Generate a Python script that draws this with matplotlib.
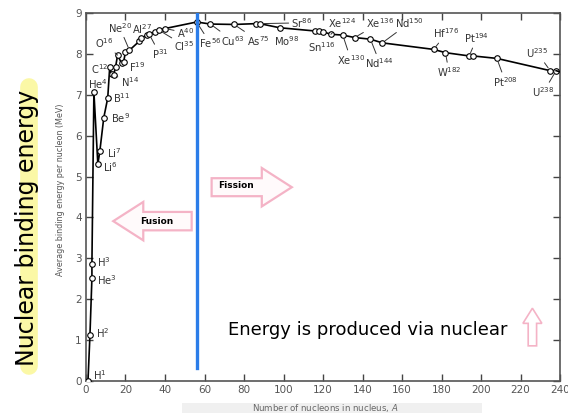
import matplotlib
matplotlib.use("Agg")
import matplotlib.pyplot as plt
from matplotlib.lines import Line2D
from matplotlib.patches import FancyArrow, Rectangle

# mass number A and binding energy per nucleon (MeV)
mass_number = [1, 2, 3, 3, 4, 6, 7, 9, 11, 12, 13, 14, 15, 16, 18, 19, 20, 22,
               27, 28, 31, 32, 35, 37, 40, 56, 63, 75, 86, 88, 98, 116, 118,
               120, 124, 130, 136, 144, 150, 176, 182, 194, 196, 208, 235, 238]
binding = [0.0, 1.12, 2.52, 2.87, 7.07, 5.30, 5.62, 6.44, 6.92, 7.67, 7.50,
           7.48, 7.69, 7.97, 7.77, 7.79, 8.05, 8.09, 8.31, 8.39, 8.46, 8.48,
           8.54, 8.58, 8.62, 8.78, 8.73, 8.72, 8.74, 8.74, 8.64, 8.56, 8.55,
           8.54, 8.48, 8.46, 8.40, 8.36, 8.27, 8.11, 8.03, 7.95, 7.95, 7.89,
           7.59, 7.59]
fe_peak = 56

x_ticks = list(range(0, 241, 20))
y_ticks = list(range(0, 10))

# nuclide labels: (text, index of point, text x, text y, leader line?)
labels = [
    (r"H$^{1}$", 0, 3.7, 0.15, False),
    (r"H$^{2}$", 1, 4.9, 1.17, False),
    (r"He$^{3}$", 2, 5.4, 2.47, False),
    (r"H$^{3}$", 3, 5.4, 2.92, False),
    (r"He$^{4}$", 4, 1.0, 7.26, False),
    (r"Li$^{6}$", 5, 8.8, 5.24, False),
    (r"Li$^{7}$", 6, 10.5, 5.57, False),
    (r"Be$^{9}$", 7, 12.7, 6.42, False),
    (r"B$^{11}$", 8, 13.8, 6.91, False),
    (r"N$^{14}$", 11, 17.5, 7.32, True),
    (r"O$^{16}$", 13, 4.4, 8.26, True),
    (r"F$^{19}$", 15, 21.6, 7.68, False),
    (r"Ne$^{20}$", 17, 11.0, 8.64, True),
    (r"Al$^{27}$", 18, 23.2, 8.60, True),
    (r"P$^{31}$", 21, 33.2, 8.00, True),
    (r"Cl$^{35}$", 23, 44.8, 8.20, True),
    (r"A$^{40}$", 24, 46.0, 8.52, True),
    (r"Fe$^{56}$", 25, 57.2, 8.26, True),
    (r"Cu$^{63}$", 26, 68.4, 8.32, True),
    (r"As$^{75}$", 27, 81.6, 8.32, True),
    (r"Sr$^{86}$", 29, 104.0, 8.76, True),
    (r"Mo$^{98}$", 30, 95.0, 8.32, False),
    (r"Sn$^{116}$", 31, 112.5, 8.17, False),
    (r"Xe$^{124}$", 34, 122.7, 8.76, True),
    (r"Xe$^{130}$", 35, 127.0, 7.86, True),
    (r"Xe$^{136}$", 36, 141.8, 8.76, True),
    (r"Nd$^{144}$", 37, 141.5, 7.77, True),
    (r"Nd$^{150}$", 38, 156.5, 8.76, True),
    (r"Hf$^{176}$", 39, 175.8, 8.50, True),
    (r"W$^{182}$", 40, 177.5, 7.56, True),
    (r"Pt$^{194}$", 41, 191.5, 8.38, True),
    (r"Pt$^{208}$", 43, 206.0, 7.32, True),
    (r"U$^{235}$", 44, 223.0, 8.02, True),
    (r"U$^{238}$", 45, 226.0, 7.07, True),
]

fig = plt.figure(figsize=(5.68, 4.17), dpi=100)
ax = fig.add_axes([0.1514, 0.0863, 0.8346, 0.8825])

ax.plot(mass_number, binding, color="black", lw=1.2, marker="o", ms=4,
        mfc="white", mec="black", mew=0.8, zorder=3)
ax.plot([mass_number[-1], 240], [binding[-1], 7.56], color="black", lw=1.2, zorder=3)

ax.axvline(fe_peak, ymin=0.035, ymax=1, color="#2b7de9", lw=2.4, zorder=4)

# C12 label sits on the left of its point
ax.text(11.3, 7.63, r"C$^{12}$", ha="right", va="center", fontsize=7.2, color="#333")

for txt, i, tx, ty, lead in labels:
    if lead:
        ax.annotate(txt, xy=(mass_number[i], binding[i]), xytext=(tx, ty),
                    ha="left", va="center", fontsize=7.2, color="#333",
                    arrowprops=dict(arrowstyle="-", lw=0.7, color="#333",
                                    shrinkA=0, shrinkB=2.5))
    else:
        ax.text(tx, ty, txt, ha="left", va="center", fontsize=7.2, color="#333")

ax.set_xlim(0, 240)
ax.set_ylim(0, 9)
ax.set_xticks(x_ticks)
ax.set_yticks(y_ticks)
ax.tick_params(direction="in", length=5, width=1, colors="#444", labelsize=7.5,
               top=True, right=True, labelcolor="#555", pad=3)
for s in ax.spines.values():
    s.set_linewidth(1.2)
    s.set_color("#555")

ax.set_ylabel("Average binding energy per nucleon (MeV)", fontsize=5.8,
              color="#555", labelpad=6)
ax.yaxis.set_label_coords(-0.045, 0.52)

# grey band behind the x label (scan artefact in the original)
fig.patches.append(Rectangle((182 / 568, 1 - 413 / 417), 300 / 568, 10 / 417,
                             transform=fig.transFigure, fc="#f0f0f0", ec="none"))
fig.text(325 / 568, 1 - 408 / 417, "Number of nucleons in nucleus, $A$",
         ha="center", va="center", fontsize=6.2, color="#666")

# hand-drawn overlays
pink = "#f4b3c6"
ax.add_patch(FancyArrow(63.6, 4.74, 40.6, 0, width=0.44, head_width=0.94,
                        head_length=15.2, length_includes_head=True,
                        fc="#fffafb", ec=pink, lw=1.6, zorder=5))
ax.text(76, 4.79, "Fission", ha="center", va="center", fontsize=6.5,
        fontweight="bold", zorder=6)
ax.add_patch(FancyArrow(53.5, 3.91, -39.7, 0, width=0.45, head_width=0.94,
                        head_length=15.2, length_includes_head=True,
                        fc="#fffafb", ec=pink, lw=1.6, zorder=5))
ax.text(36, 3.91, "Fusion", ha="center", va="center", fontsize=6.5,
        fontweight="bold", zorder=6)
ax.add_patch(FancyArrow(226, 0.86, 0, 0.92, width=4.25, head_width=9.6,
                        head_length=0.37, length_includes_head=True,
                        fc="white", ec=pink, lw=1.2, zorder=5))
ax.text(72, 1.25, "Energy is produced via nuclear", ha="left", va="center",
        fontsize=13, color="black", zorder=6)

# yellow highlighter stroke + vertical title
fig.add_artist(Line2D([28.8 / 568, 28.8 / 568], [1 - 366 / 417, 1 - 87 / 417],
                      transform=fig.transFigure, color="#fbf8a6", lw=12.7,
                      solid_capstyle="round", zorder=0))
fig.text(27 / 568, 1 - 227.5 / 417, "Nuclear binding energy", rotation=90,
         ha="center", va="center", fontsize=17, color="black", zorder=1)

fig.savefig("out.png", dpi=100)
